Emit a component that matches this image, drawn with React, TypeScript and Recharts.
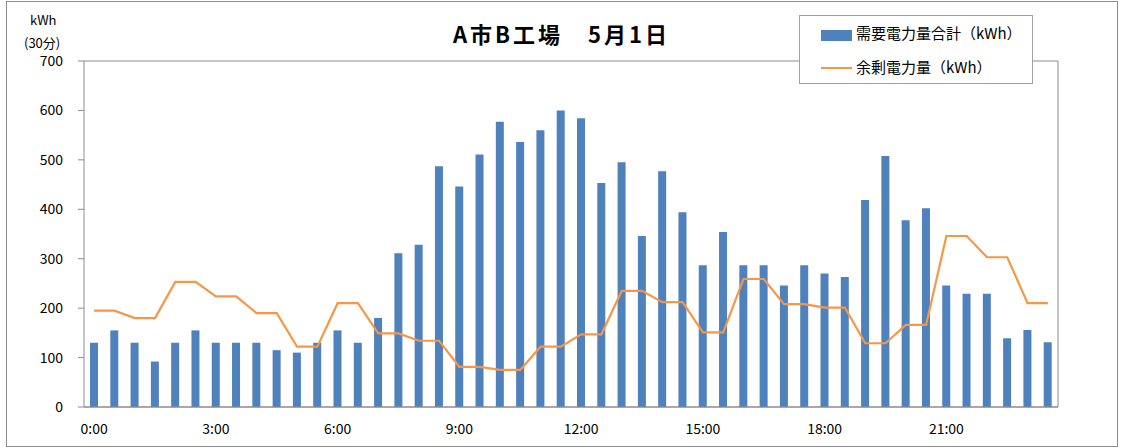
import { Bar, CartesianGrid, ComposedChart, Line, XAxis, YAxis } from 'recharts';

const times = [
    '0:00', '0:30', '1:00', '1:30', '2:00', '2:30', '3:00', '3:30', '4:00', '4:30', '5:00', '5:30',
    '6:00', '6:30', '7:00', '7:30', '8:00', '8:30', '9:00', '9:30', '10:00', '10:30', '11:00', '11:30',
    '12:00', '12:30', '13:00', '13:30', '14:00', '14:30', '15:00', '15:30', '16:00', '16:30', '17:00', '17:30',
    '18:00', '18:30', '19:00', '19:30', '20:00', '20:30', '21:00', '21:30', '22:00', '22:30', '23:00', '23:30',
];

const demand = [
    130, 155, 130, 92, 130, 155, 130, 130, 130, 115, 110, 130,
    155, 130, 180, 311, 328, 487, 446, 511, 577, 536, 560, 600,
    584, 453, 495, 346, 477, 394, 287, 354, 287, 287, 246, 287,
    270, 263, 419, 508, 378, 402, 246, 229, 229, 139, 156, 131,
];

const surplus = [
    195, 195, 180, 180, 253, 253, 224, 224, 190, 190, 122, 122,
    210, 210, 149, 149, 134, 134, 81, 81, 75, 75, 122, 122,
    147, 147, 235, 235, 212, 212, 151, 151, 259, 259, 208, 208,
    201, 201, 129, 129, 166, 166, 346, 346, 303, 303, 210, 210,
];

const yTicks = [0, 100, 200, 300, 400, 500, 600, 700];

const demandName = '需要電力量合計（kWh）';
const surplusName = '余剰電力量（kWh）';

const data = times.map((t, i) => ({ time: t, demand: demand[i], surplus: surplus[i] }));

const font = '"Noto Sans CJK JP", "Noto Sans", sans-serif';
const gridColor = '#8c8c8c';

const LegendBox = () => (
    <div
        style={{
            position: 'absolute',
            left: 799,
            top: 15,
            width: 232,
            height: 67,
            border: '1px solid #a0a0a0',
            background: '#fff',
            fontFamily: font,
            fontSize: 15,
            color: '#000',
        }}
    >
        <div style={{ position: 'absolute', left: 21, top: 14, width: 31, height: 11, background: '#4F81BD' }} />
        <div style={{ position: 'absolute', left: 56, top: 6, lineHeight: '22px', whiteSpace: 'nowrap' }}>{demandName}</div>
        <div style={{ position: 'absolute', left: 21, top: 51, width: 31, height: 2, background: '#F79646' }} />
        <div style={{ position: 'absolute', left: 56, top: 40, lineHeight: '22px', whiteSpace: 'nowrap' }}>{surplusName}</div>
    </div>
);

const titleStyle = {
    position: 'absolute' as const,
    top: 17,
    fontFamily: font,
    fontWeight: 'bold' as const,
    fontSize: 22,
    letterSpacing: 3,
    lineHeight: '32px',
    whiteSpace: 'nowrap' as const,
};

const App = () => {
    return (
        <div style={{ position: 'absolute', left: 0, top: 0, width: 1121, height: 448, background: '#fff' }}>
            <div
                style={{
                    position: 'absolute',
                    left: 6,
                    top: 1,
                    width: 1110,
                    height: 444,
                    border: '1px solid #8c8c8c',
                }}
            />
            <span style={{ ...titleStyle, left: 453 }}>A市B工場</span>
            <span style={{ ...titleStyle, left: 588 }}>5月1日</span>
            <div style={{ position: 'absolute', left: 30, top: 10, fontFamily: font, fontSize: 13, lineHeight: '20px' }}>kWh</div>
            <div style={{ position: 'absolute', left: 24, top: 33, fontFamily: font, fontSize: 13, lineHeight: '20px' }}>(30分)</div>
            <ComposedChart
                width={1121}
                height={448}
                data={data}
                margin={{ top: 61, right: 62, left: 0, bottom: 11 }}
                style={{ position: 'absolute', left: 0, top: 0 }}
            >
                <CartesianGrid vertical={false} stroke={gridColor} strokeWidth={1} />
                <XAxis
                    dataKey="time"
                    interval={5}
                    height={30}
                    tickLine={false}
                    tickSize={0}
                    tickMargin={17}
                    axisLine={{ stroke: gridColor }}
                    tick={{ fill: '#000', fontSize: 14, fontFamily: font }}
                />
                <YAxis
                    yAxisId="left"
                    width={84}
                    domain={[0, 700]}
                    ticks={yTicks}
                    tickSize={6}
                    tickMargin={15}
                    tickLine={{ stroke: gridColor }}
                    axisLine={{ stroke: gridColor }}
                    tick={{ fill: '#000', fontSize: 14, fontFamily: font }}
                />
                <YAxis
                    yAxisId="right"
                    orientation="right"
                    width={1}
                    domain={[0, 700]}
                    tick={false}
                    tickLine={false}
                    axisLine={{ stroke: gridColor }}
                />
                <Bar
                    yAxisId="left"
                    dataKey="demand"
                    name={demandName}
                    fill="#4F81BD"
                    barSize={8}
                    isAnimationActive={false}
                />
                <Line
                    yAxisId="left"
                    type="linear"
                    dataKey="surplus"
                    name={surplusName}
                    stroke="#F79646"
                    strokeWidth={2.2}
                    dot={false}
                    isAnimationActive={false}
                />
            </ComposedChart>
            <LegendBox />
        </div>
    );
};

export default App;
